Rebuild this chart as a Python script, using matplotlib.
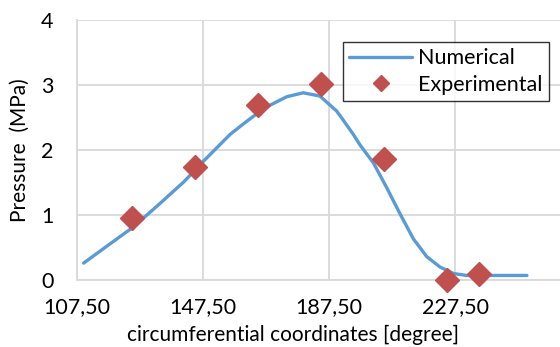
import matplotlib
matplotlib.use("Agg")
import matplotlib.pyplot as plt

# numerical curve
num_x = [109.6, 118.1, 125.5, 133.9, 141.4, 147.7, 156.1, 159.2, 163.5, 168.8,
         174.1, 179.3, 184.6, 189.9, 192.0, 195.2, 197.3, 201.6, 205.8, 210.0,
         214.3, 218.5, 222.7, 227.0, 231.2, 240.0, 250.3]
num_y = [0.26, 0.56, 0.82, 1.18, 1.51, 1.83, 2.24, 2.36, 2.52, 2.69,
         2.82, 2.88, 2.83, 2.60, 2.46, 2.24, 2.08, 1.80, 1.42, 1.02,
         0.63, 0.36, 0.20, 0.10, 0.07, 0.07, 0.07]

# experimental points
exp_x = [125, 145, 165, 185, 205, 225, 235]
exp_y = [0.95, 1.74, 2.69, 3.02, 1.86, 0.0, 0.09]

xticks = [107.5, 147.5, 187.5, 227.5]
xticklabels = ["107,50", "147,50", "187,50", "227,50"]
yticks = [0, 1, 2, 3, 4]

plt.rcParams['font.family'] = ['Lato', 'DejaVu Sans']

fig = plt.figure(figsize=(5.6, 3.47), dpi=100)
ax = fig.add_axes([77/560, 67/347, 483/560, 260/347])

grid_c = '#D9D9D9'
ax.plot(num_x, num_y, color='#5B9BD5', lw=2.4, label='Numerical',
        solid_capstyle='round', solid_joinstyle='round', zorder=3)
ax.plot(exp_x, exp_y, linestyle='none', marker='D', ms=12.5, color='#C0504D',
        label='Experimental', zorder=4, clip_on=False)

ax.set_xlim(107.5, 260.8)
ax.set_ylim(0, 4)
ax.set_xticks(xticks)
ax.set_xticklabels(xticklabels)
ax.set_yticks(yticks)
ax.grid(True, color=grid_c, lw=1.3)
ax.set_axisbelow(True)
for s in ['top', 'right']:
    ax.spines[s].set_visible(False)
for s in ['left', 'bottom']:
    ax.spines[s].set_color(grid_c)
    ax.spines[s].set_linewidth(1.3)
ax.tick_params(axis='both', length=0, labelsize=15.5)
ax.tick_params(axis='y', pad=17)
ax.tick_params(axis='x', pad=12)

fig.text(293/560, 1 - 345/347, 'circumferential coordinates [degree]',
         ha='center', va='bottom', fontsize=15)
fig.text(20/560, 1 - 150/347, 'Pressure  (MPa)', rotation=90,
         ha='center', va='center', fontsize=15)

leg = ax.legend(loc='upper left', bbox_to_anchor=((343-77)/483, (280-42)/260),
                frameon=True, fancybox=False, fontsize=15.5, handlelength=2.9,
                borderpad=0.3, labelspacing=0.3, handletextpad=0.3,
                borderaxespad=0, markerscale=0.65)
leg.get_frame().set_edgecolor('black')
leg.get_frame().set_linewidth(1.0)

fig.savefig('out.png', dpi=100)
